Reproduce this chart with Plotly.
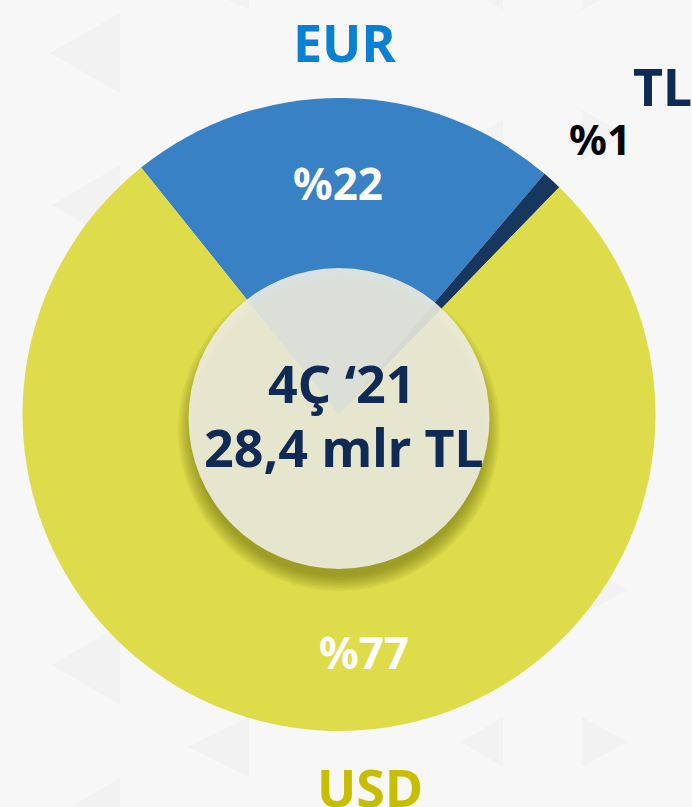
import plotly.graph_objects as go

# data
currencies = ["EUR", "TL", "USD"]
shares = [22, 1, 77]
period = "4Ç ‘21"
total = "28,4 mlr TL"

slice_colors = ["#3881C4", "#17375E", "#DEDC4A"]
label_colors = ["#0A80D2", "#0D2B55", "#C8BE00"]

W, H = 692, 807


def px_x(x):
    return x / W


def px_y(y):
    return (H - y) / H


def circle(cx, cy, r, **kw):
    return dict(type="circle", xref="paper", yref="paper",
                x0=px_x(cx - r), x1=px_x(cx + r),
                y0=px_y(cy + r), y1=px_y(cy - r), **kw)


def tri(tip_x, tip_y, base_x, half):
    p = "M {} {} L {} {} L {} {} Z".format(
        px_x(tip_x), px_y(tip_y),
        px_x(base_x), px_y(tip_y - half),
        px_x(base_x), px_y(tip_y + half))
    return dict(type="path", xref="paper", yref="paper", path=p,
                fillcolor="#F2F2F2", line=dict(width=0), layer="below")


# pie: centre (339, 414.5), radius 316.5 px
cx, cy, R = 339, 414.5, 316.5

fig = go.Figure(go.Pie(
    labels=currencies, values=shares,
    sort=False, direction="clockwise", rotation=-38.7,
    marker=dict(colors=slice_colors, line=dict(width=0)),
    textinfo="none", hoverinfo="label+percent",
    domain=dict(x=[px_x(cx - R), px_x(cx + R)], y=[px_y(cy + R), px_y(cy - R)]),
    showlegend=False,
))

# faint play-icon pattern in the background
shapes = [
    tri(50, 53, 120, 40), tri(52, 205, 120, 40), tri(52, 665, 120, 40),
    tri(52, 818, 120, 40), tri(188, 747, 249, 30), tri(188, -20, 249, 30),
    tri(461, 742, 503, 25), tri(461, 145, 503, 25), tri(461, -15, 503, 25),
    tri(627, 742, 582, 25), tri(627, 590, 582, 25), tri(627, 135, 582, 25),
    tri(627, -15, 582, 25),
]

# soft shadow under the centre disc
for k in range(8):
    shapes.append(circle(339, 430, 147 + 2 * k, fillcolor="rgba(90,90,0,0.07)",
                         line=dict(width=0), layer="above"))
shapes.append(circle(339, 418.5, 150.5, fillcolor="rgba(240,239,230,0.88)",
                     line=dict(width=0), layer="above"))

font = "Noto Sans"
ann = []
# outside labels
ann.append(dict(x=px_x(344), y=px_y(41), text=currencies[0],
                font=dict(family=font, size=52, color=label_colors[0], weight="bold")))
ann.append(dict(x=px_x(631), y=px_y(86), text=currencies[1], xanchor="left",
                font=dict(family=font, size=52, color=label_colors[1], weight="bold")))
ann.append(dict(x=px_x(370), y=px_y(786), text=currencies[2],
                font=dict(family=font, size=52, color=label_colors[2], weight="bold")))
# percentages
ann.append(dict(x=px_x(338), y=px_y(183), text="%" + str(shares[0]),
                font=dict(family=font, size=44, color="white", weight="bold")))
ann.append(dict(x=px_x(600), y=px_y(138), text="%" + str(shares[1]),
                font=dict(family=font, size=42, color="black", weight="bold")))
ann.append(dict(x=px_x(364), y=px_y(652), text="%" + str(shares[2]),
                font=dict(family=font, size=44, color="white", weight="bold")))
# centre text
ann.append(dict(x=px_x(341), y=px_y(382), text=period,
                font=dict(family=font, size=52, color="#0F2A55", weight="bold")))
ann.append(dict(x=px_x(344), y=px_y(446), text=total,
                font=dict(family=font, size=52, color="#0F2A55", weight="bold")))

for a in ann:
    a.update(xref="paper", yref="paper", showarrow=False)
    a.setdefault("xanchor", "center")
    a["yanchor"] = "middle"

fig.update_layout(
    width=W, height=H, autosize=False,
    margin=dict(l=0, r=0, t=0, b=0),
    paper_bgcolor="#F7F7F7", plot_bgcolor="#F7F7F7",
    shapes=shapes, annotations=ann,
)

fig.write_html("out.html", config={"displayModeBar": False},
               post_script="document.body.style.margin='0';")
